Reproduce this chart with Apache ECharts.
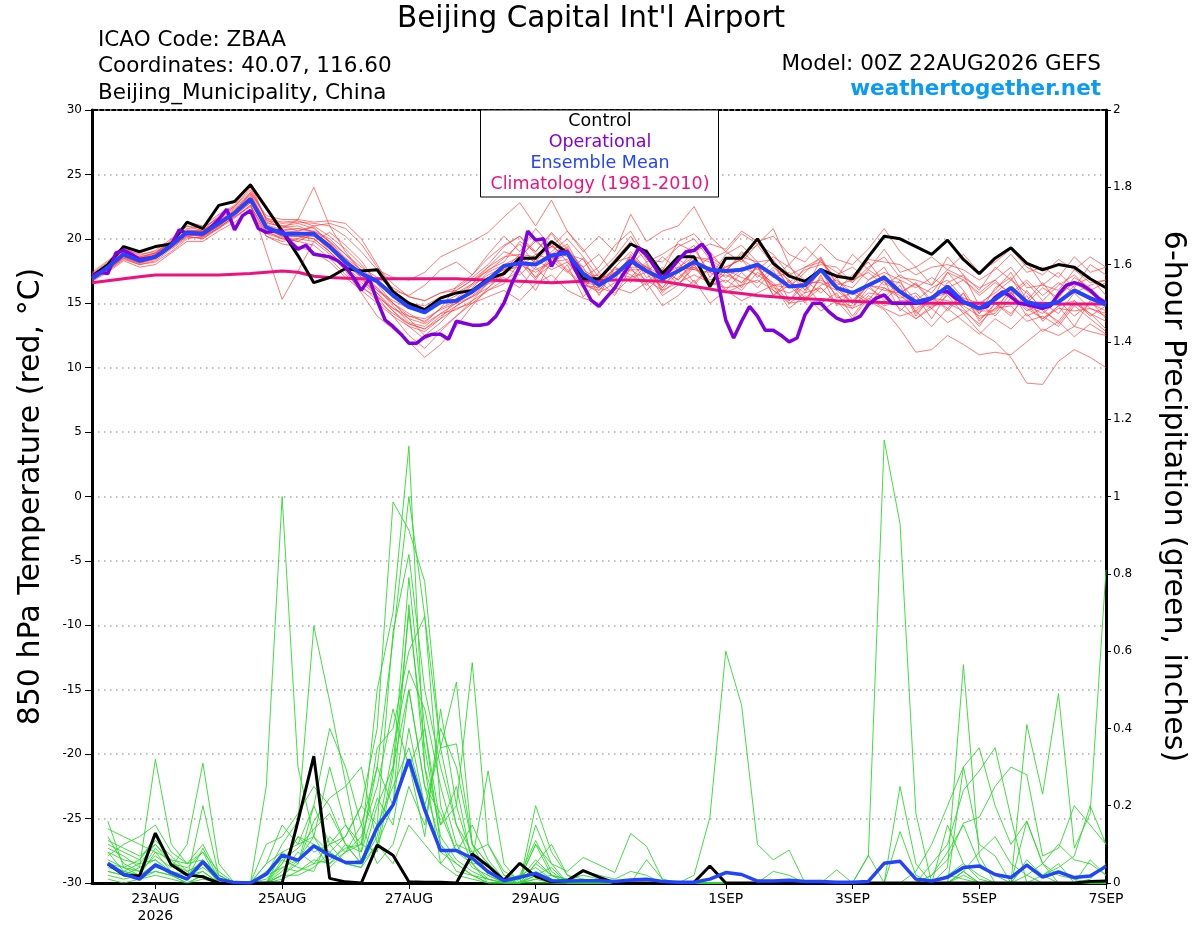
<!DOCTYPE html>
<html><head><meta charset="utf-8">
<script src="https://cdn.jsdelivr.net/npm/echarts@6/dist/echarts.min.js"></script>
<style>html,body{margin:0;padding:0;background:#fff}#c{width:1200px;height:927px}</style>
</head><body><div id="c"></div>
<script>
// ---- x axis (hours after 00Z 22AUG2026) ----
const xTickHours = [24, 72, 120, 168, 240, 288, 336, 384];
const xTickLabels = ['23AUG\n2026', '25AUG', '27AUG', '29AUG', '1SEP', '3SEP', '5SEP', '7SEP'];

// ---- 850 hPa temperature, 6-hourly from 00Z 22AUG (65 values) ----
const controlTemp = [17.1,18.0,19.4,19.0,19.4,19.6,21.3,20.8,22.6,22.9,24.2,22.4,20.6,
 18.7,16.6,17.0,17.7,17.5,17.6,15.9,15.0,14.5,15.4,15.8,16.0,16.9,
 17.3,18.5,18.5,19.8,18.9,16.9,16.9,18.2,19.6,19.0,17.3,18.6,18.6,
 16.3,18.5,18.5,20.0,18.1,17.1,16.7,17.6,17.1,16.9,18.6,20.2,20.0,
 19.4,18.8,19.9,18.4,17.3,18.5,19.3,18.1,17.6,18.0,17.8,16.9,16.2];
const meanTemp = [16.9,17.8,18.8,18.3,18.6,19.5,20.5,20.4,21.2,22.0,23.1,20.9,20.4,
 20.4,20.4,19.4,18.2,17.3,16.7,15.6,14.7,14.3,15.1,15.2,15.9,16.8,
 17.9,18.1,18.0,18.7,18.9,17.3,16.4,17.2,18.3,17.5,16.9,17.5,18.2,
 17.6,17.5,17.6,18.0,17.2,16.3,16.4,17.6,16.2,15.8,16.4,17.0,15.9,
 15.1,15.4,16.3,15.1,14.6,15.3,16.2,15.1,14.8,15.1,16.0,15.4,14.9];
const climoTemp = [16.6,16.75,16.9,17.05,17.2,17.2,17.2,17.2,17.2,17.25,17.3,17.4,17.5,
 17.4,17.1,17.0,16.95,16.9,16.9,16.9,16.9,16.9,16.9,16.9,16.85,16.8,
 16.75,16.7,16.65,16.6,16.65,16.7,16.75,16.8,16.8,16.75,16.7,16.5,16.3,
 16.1,15.9,15.75,15.6,15.5,15.4,15.35,15.3,15.2,15.15,15.1,15.05,15.0,
 15.0,15.0,15.0,15.0,15.0,15.0,15.0,15.0,15.0,14.95,14.95,14.95,14.95];
// operational run, 3-hourly (129 values)
const operationalTemp3h = [17.1,17.4,17.3,18.9,19.1,18.8,18.4,18.5,18.6,19.0,
 19.5,20.7,20.4,20.4,20.4,20.9,21.5,22.3,20.7,21.8,
 22.2,20.8,20.5,20.6,20.6,19.8,19.2,19.5,18.8,18.7,
 18.6,18.3,17.8,17.0,16.0,16.9,15.2,13.7,13.2,12.6,
 11.9,11.9,12.4,12.6,12.6,12.2,13.6,13.45,13.3,13.3,
 13.4,14.0,15.0,16.55,17.85,20.6,19.9,20.0,17.85,19.0,
 19.0,17.6,16.4,15.25,14.75,15.5,16.2,17.2,18.1,19.3,
 18.75,17.85,16.9,17.6,18.35,19.0,19.1,19.6,18.75,16.7,
 13.7,12.3,13.6,14.75,14.0,12.9,12.9,12.5,12.0,12.3,
 14.1,15.0,15.0,14.35,13.85,13.6,13.7,14.0,14.9,15.4,
 15.65,15.0,15.0,15.0,15.0,15.1,15.4,15.9,15.9,15.4,
 15.05,14.9,14.6,14.75,15.45,15.9,15.5,15.0,14.9,14.75,
 14.6,14.8,15.7,16.4,16.6,16.4,16.0,15.4,15.0];

// ensemble members, temperature (65 values each)
const tempM01 = [17.0,17.6,18.6,18.2,18.8,19.8,21.0,20.6,21.8,22.5,24.0,21.5,20.8, 21.5,24.0,21.0,19.0,17.5,16.0,15.0,14.2,13.5,14.6,16.3,17.2,18.5, 19.5,20.2,19.0,20.5,19.2,17.0,17.8,19.5,20.6,18.5,17.5,19.8,20.4, 19.0,17.5,18.8,19.5,18.0,16.2,17.8,18.5,16.0,17.2,18.2,16.6,15.8, 16.6,15.2,17.4,16.0,14.2,16.2,17.0,15.0,16.2,15.4,17.0,16.2,15.0];
const tempM02 = [16.8,17.5,18.4,18.0,18.2,19.0,20.0,20.2,20.8,21.8,22.8,19.0,15.3, 17.5,19.8,20.5,19.5,18.3,16.5,15.0,13.8,12.5,13.5,14.8,15.5,16.5, 17.0,16.2,17.8,16.5,18.0,15.5,16.8,15.6,17.8,16.0,17.2,18.2,16.6, 17.8,15.8,16.4,18.0,15.6,16.8,15.0,17.2,14.8,16.0,15.2,16.8,14.4, 15.6,13.8,15.8,14.6,13.2,15.0,14.2,15.6,13.6,14.8,13.2,15.2,13.8];
const tempM03 = [17.2,18.0,19.0,18.5,18.8,19.6,20.6,20.5,21.3,22.2,23.5,21.2,21.0, 21.2,20.8,19.8,18.5,17.0,15.5,14.0,12.5,11.5,12.8,14.0,15.0,16.0, 16.5,18.2,16.8,18.6,17.5,16.2,17.4,16.0,18.4,16.6,17.8,16.4,18.0, 16.4,17.6,16.2,18.0,16.0,15.2,16.4,15.0,15.8,14.0,15.6,14.8,15.2, 13.8,14.6,13.5,14.2,12.8,12.0,10.8,8.8,8.7,10.5,11.4,10.8,10.0];
const tempM04 = [17.0,17.7,18.7,18.2,18.5,19.5,20.4,20.4,21.1,21.9,23.0,20.8,20.4, 20.4,20.2,19.4,18.2,17.0,15.8,14.4,13.4,13.0,14.0,14.8,15.6,16.6, 17.4,18.0,17.4,18.2,18.4,16.6,15.8,16.6,17.6,16.8,16.0,16.6,17.2, 16.6,16.2,16.4,16.8,16.0,15.0,15.2,16.2,15.0,14.6,15.2,14.5,13.0, 11.2,11.4,12.5,11.8,11.0,11.2,11.0,12.0,13.0,12.5,13.2,12.8,12.5];
const tempM05 = [16.9,17.9,19.0,18.5,18.9,19.9,21.3,21.0,21.9,22.6,24.3,21.4,21.2, 21.3,21.2,21.0,20.2,19.0,17.6,17.0,16.8,17.4,18.6,19.2,19.8,20.5, 21.7,22.8,21.0,23.0,20.6,19.0,20.2,19.0,21.9,19.8,20.6,21.0,22.5, 20.2,19.0,20.4,19.6,20.8,18.0,19.4,18.2,17.0,18.8,17.6,19.2,17.4, 17.8,16.4,18.6,17.2,16.0,17.8,16.8,18.2,16.4,17.4,16.2,18.0,17.2];
const tempM06 = [17.3,18.2,19.2,18.8,19.0,19.8,20.8,20.9,21.6,22.4,23.6,21.8,21.5, 21.5,21.3,21.4,21.2,20.0,18.0,16.0,14.8,14.5,15.2,15.0,15.5,16.2, 17.5,18.5,20.0,18.5,19.2,17.8,15.6,17.8,19.0,17.6,16.5,18.6,19.5, 17.0,18.8,19.5,18.2,17.0,18.0,16.0,17.5,16.4,15.0,16.8,17.8,15.8, 16.5,15.0,16.6,17.2,14.8,16.0,17.4,15.2,16.6,15.0,16.4,17.0,15.6];
const tempM07 = [16.7,17.4,18.3,17.8,18.0,18.9,19.8,19.8,20.6,21.3,22.2,20.2,19.8, 20.0,20.6,20.0,18.8,17.5,16.2,14.8,13.5,13.2,14.2,14.5,15.2,16.0, 16.8,17.5,16.0,18.3,17.4,18.5,16.2,17.8,16.6,18.0,16.0,17.4,16.4, 17.8,16.0,17.4,16.2,17.6,15.2,16.8,15.8,17.0,15.2,16.4,15.2,16.4, 14.0,15.6,14.4,15.8,13.6,15.0,14.0,16.0,14.4,13.6,15.2,14.0,14.8];
const tempM08 = [17.0,17.8,18.9,18.4,18.7,19.6,20.6,20.3,21.0,21.8,22.8,20.8,20.2, 20.2,20.0,19.0,17.5,15.8,14.0,13.0,12.0,10.8,11.8,13.2,14.8,16.2, 17.2,18.6,17.0,18.0,19.2,16.4,16.0,17.4,17.0,18.2,15.8,17.0,18.0, 16.2,17.4,16.6,17.8,15.6,16.4,15.2,17.0,15.6,14.6,16.2,15.4,16.8, 14.2,15.4,14.6,15.8,13.8,14.6,16.0,14.0,14.6,13.4,15.0,14.2,13.6];
const tempM09 = [17.1,17.7,18.7,18.3,18.6,19.4,20.4,20.6,21.2,21.9,23.0,21.0,20.6, 20.8,20.6,19.8,18.8,17.8,17.0,16.2,15.5,15.2,15.8,16.0,16.8,17.5, 18.5,19.6,18.0,19.0,20.0,18.6,17.0,18.4,19.8,18.2,18.8,19.6,19.0, 19.6,19.2,20.6,19.8,20.2,18.8,18.2,19.6,18.4,18.0,19.2,20.8,19.0, 17.8,18.6,17.6,18.8,17.4,18.2,19.2,17.8,17.2,18.4,17.6,18.6,17.8];
const tempM10 = [16.8,17.6,18.6,18.1,18.4,19.3,20.2,20.0,20.8,21.6,22.6,20.4,20.0, 20.0,19.8,18.8,17.6,16.6,15.6,14.4,13.2,12.8,13.8,14.6,15.0,15.5, 16.0,15.2,16.5,17.2,16.0,15.4,15.0,16.2,15.8,16.6,14.8,15.6,16.8, 15.0,16.0,15.2,15.8,16.4,14.6,15.6,14.4,15.2,13.8,15.4,14.6,14.0, 14.4,13.2,14.6,13.6,12.6,13.8,13.0,14.2,12.8,13.6,12.4,13.4,12.6];
const tempM11 = [17.2,18.1,19.1,18.6,18.9,19.7,20.7,20.6,21.5,22.3,23.4,21.3,20.9, 21.0,20.5,19.6,18.4,17.4,16.8,15.8,15.0,14.8,15.5,15.8,16.5,17.6, 18.2,19.8,19.0,20.4,18.8,18.4,16.6,18.2,18.6,17.4,18.6,17.6,19.2, 17.4,17.8,18.4,17.0,18.2,16.2,17.4,18.6,16.4,16.8,17.4,16.4,17.2, 16.4,15.8,17.4,16.8,15.8,16.8,15.6,16.6,15.2,16.4,17.2,16.0,16.6];
const tempM12 = [16.9,17.7,18.8,18.2,18.5,19.4,20.3,20.2,21.0,21.9,23.0,20.6,20.0, 19.8,19.5,18.5,17.2,16.2,15.5,14.6,14.0,13.8,14.5,15.0,16.0,17.0, 17.6,18.8,18.2,19.6,18.2,17.0,17.2,16.8,18.8,17.0,17.6,16.8,18.0, 17.8,17.0,17.8,17.2,16.4,16.6,15.8,17.6,15.4,15.8,16.4,17.2,15.2, 15.2,14.6,16.0,15.4,14.2,15.4,15.8,14.4,15.0,14.2,15.8,14.6,14.2];
const tempM13 = [17.4,18.3,19.3,18.7,19.1,20.0,21.0,20.8,21.7,22.5,23.8,21.6,21.3, 21.4,21.0,21.2,20.8,19.6,17.8,16.5,15.5,15.2,15.8,16.2,17.0,18.0, 19.4,20.2,18.8,19.4,20.6,19.2,17.4,18.6,20.2,18.4,18.2,19.4,20.0, 18.4,19.0,18.2,19.6,18.8,17.2,17.8,18.2,17.4,16.6,17.8,18.6,17.0, 16.8,16.4,17.6,17.0,16.2,16.8,17.8,16.2,16.4,16.0,17.6,16.6,16.8];
const tempM14 = [16.8,17.5,18.5,18.0,18.3,19.2,20.1,20.1,20.9,21.7,22.5,20.2,19.6, 19.4,19.0,18.2,17.0,16.0,15.0,14.0,13.2,12.2,13.0,14.0,15.2,16.6, 17.2,18.4,17.0,18.8,17.6,16.4,16.2,15.8,17.0,17.4,15.6,16.4,17.8, 16.4,16.8,16.0,17.4,16.6,15.0,15.8,16.2,15.0,14.8,15.8,15.6,14.6, 13.8,14.8,15.0,14.4,13.4,14.6,14.8,13.6,14.0,13.2,14.8,13.8,12.8];
const tempM15 = [17.1,17.9,18.9,18.4,18.7,19.6,20.5,20.5,21.3,22.1,23.2,21.0,20.5, 20.6,20.9,19.7,18.3,17.2,16.0,15.2,14.6,14.4,15.0,15.6,16.5,17.8, 19.0,18.6,19.8,18.8,19.6,17.4,16.8,17.0,18.6,17.8,16.8,17.4,18.6, 18.2,17.4,19.0,18.0,17.0,17.4,16.0,18.4,16.6,16.2,17.6,16.8,16.6, 15.2,16.2,16.8,15.4,15.0,15.8,16.8,15.8,14.6,15.6,16.6,15.8,15.2];
const tempM16 = [17.0,17.8,18.7,18.3,18.6,19.5,20.4,20.3,21.1,22.0,23.1,20.9,20.3, 20.2,20.2,19.2,18.0,17.0,16.2,15.0,14.0,13.6,14.6,15.2,16.0,17.0, 17.6,17.8,18.8,18.4,19.4,16.8,16.8,17.6,17.8,17.8,16.2,17.8,17.6, 17.4,16.6,17.6,17.8,16.4,16.2,16.6,16.6,16.0,15.0,16.4,16.2,15.6, 14.6,15.4,15.2,14.8,14.0,14.2,15.8,14.6,13.8,14.6,14.4,14.6,14.0];
const tempM17 = [17.2,18.0,19.0,18.4,18.7,19.6,20.6,20.6,21.4,22.2,23.3,21.1,20.7, 20.8,20.5,19.6,18.5,17.6,16.8,15.6,14.8,14.6,15.4,16.0,16.8,17.8, 18.6,18.8,18.6,19.4,19.2,17.6,16.8,17.4,18.5,17.8,17.2,17.8,18.6, 18.4,17.6,18.6,18.2,18.4,16.6,17.6,18.0,17.8,16.6,18.4,18.2,18.0, 17.2,17.8,18.0,17.6,16.8,17.6,18.8,17.4,17.8,17.0,18.6,17.4,17.8];
const tempM18 = [16.9,17.7,18.6,18.2,18.5,19.4,20.4,20.2,21.0,21.9,22.9,20.7,20.2, 20.2,20.0,19.0,17.8,16.8,15.8,14.6,13.8,13.4,14.2,15.0,16.2,17.4, 18.0,18.6,17.6,18.2,18.8,17.4,16.0,17.4,17.6,17.6,16.2,17.6,17.8, 16.8,17.2,16.6,17.8,16.2,15.8,16.4,16.8,16.2,15.0,16.4,16.0,15.8, 14.4,15.4,15.8,15.0,14.4,14.4,16.2,14.8,13.8,14.8,15.2,14.2,13.0];
const tempM19 = [17.3,17.9,18.9,18.6,18.9,19.7,20.6,20.7,21.4,22.1,23.6,21.6,21.0, 20.6,21.0,20.2,19.2,18.0,16.6,16.0,15.6,16.4,17.6,18.2,17.2,18.8, 20.2,19.0,20.8,19.4,18.6,17.8,18.8,17.2,18.0,19.2,17.2,18.4,17.6, 18.6,17.8,18.4,17.6,18.6,17.8,16.8,17.6,17.2,17.8,16.8,17.4,16.8, 16.2,17.0,16.2,16.8,15.6,16.6,15.8,16.8,15.6,16.6,15.8,16.4,16.8];
const tempM20 = [16.8,17.6,18.5,18.1,18.5,19.3,20.2,20.0,20.9,21.7,22.6,20.5,20.1, 19.8,20.4,19.0,17.8,16.4,15.2,14.2,13.4,13.0,13.8,15.4,16.4,17.2, 17.8,17.2,18.4,17.6,18.2,16.6,16.4,17.8,17.2,16.4,17.6,16.8,18.4, 16.6,17.6,17.0,16.6,17.8,16.8,15.4,16.4,16.8,15.8,15.0,16.2,15.4, 15.8,14.6,15.6,14.2,15.0,14.0,15.4,14.8,14.2,15.2,14.0,15.0,14.4];
const tempMembers = [tempM01,tempM02,tempM03,tempM04,tempM05,tempM06,tempM07,tempM08,tempM09,tempM10,
  tempM11,tempM12,tempM13,tempM14,tempM15,tempM16,tempM17,tempM18,tempM19,tempM20];

// ---- 6-hour precipitation, values for 06Z 22AUG .. 00Z 7SEP (64 values) ----
const controlPrecip = [0.049,0.021,0.018,0.129,0.047,0.021,0.016,0,
 0,0,0,0,0.16,0.328,0.012,0.003,
 0,0.098,0.072,0.003,0.002,0.002,0,0.075,
 0.044,0.007,0.051,0.017,0.003,0.006,0.032,0.015,
 0,0,0,0,0,0.002,0.044,0,
 0,0,0,0,0,0,0,0,
 0,0,0,0,0,0,0,0,
 0,0,0,0,0,0,0.004,0.005];
const meanPrecip = [0.051,0.023,0.01,0.047,0.027,0.01,0.055,0.01,
 0.001,0,0.023,0.072,0.059,0.096,0.072,0.053,
 0.053,0.144,0.202,0.32,0.189,0.084,0.084,0.064,
 0.029,0.006,0.015,0.025,0.006,0.005,0.006,0.006,
 0.004,0.008,0.01,0.004,0.002,0.002,0.01,0.027,
 0.022,0.005,0.005,0.007,0.004,0.004,0.002,0.002,
 0.004,0.051,0.056,0.01,0.005,0.015,0.04,0.044,
 0.022,0.014,0.046,0.015,0.029,0.014,0.018,0.043];
const precipM01 = [0.05,0.03,0.02,0.08,0.03,0.01,0.06,0.01, 0,0,0.25,1.0,0.30,0.12,0.08,0.05, 0.04,0.15,0.25,0.35,0.20,0.08,0.05,0.02, 0.01,0,0.02,0.04,0.01,0,0,0, 0,0,0,0,0,0,0,0, 0,0,0,0,0,0,0,0, 0,0,0,0,0,0.02,0.01,0, 0,0,0,0,0,0,0,0];
const precipM02 = [0.1,0.08,0.06,0.12,0.05,0.02,0.03,0, 0,0,0.02,0.1,0.16,0.665,0.47,0.26, 0.05,0.1,0.3,0.5,0.25,0.1,0.05,0.02, 0,0,0,0.01,0.02,0,0,0, 0,0,0,0,0,0,0,0, 0,0,0,0,0,0,0,0, 0,0,0,0,0,0,0,0, 0,0,0.02,0,0,0,0,0];
const precipM03 = [0.16,0.04,0.02,0.05,0.02,0,0.02,0, 0,0,0,0.03,0.08,0.05,0.1,0.15, 0.1,0.5,0.7,1.13,0.3,0.05,0.1,0.08, 0.03,0,0.01,0.1,0.02,0,0,0, 0,0,0,0,0,0,0,0, 0,0,0,0,0,0,0,0, 0,0,0,0,0,0,0.03,0, 0,0,0,0,0,0,0,0];
const precipM04 = [0.07,0.1,0.12,0.15,0.08,0.05,0.1,0.02, 0,0,0,0.05,0.12,0.1,0.08,0.12, 0.2,0.4,0.986,0.913,0.78,0.35,0.36,0.1, 0.02,0,0,0.05,0.1,0.02,0,0, 0,0,0,0,0,0,0,0, 0,0,0,0,0,0,0,0, 0,0,0,0,0.05,0.1,0.24,0.29, 0.35,0.17,0,0.02,0.05,0,0,0];
const precipM05 = [0.03,0.02,0.04,0.32,0.1,0.05,0.08,0, 0,0,0.05,0.15,0.1,0.2,0.4,0.3, 0.15,0.3,0.63,1.0,0.69,0.2,0.08,0.05, 0.01,0,0,0.02,0,0,0,0, 0,0,0,0,0,0.02,0.17,0.6, 0.46,0.1,0.06,0.085,0,0,0,0, 0,0,0,0,0,0,0,0, 0,0,0,0,0,0,0,0];
const precipM06 = [0.12,0.05,0.03,0.07,0.04,0.1,0.31,0.05, 0,0,0.1,0.12,0.18,0.25,0.2,0.1, 0.05,0.2,0.3,0.79,0.4,0.1,0.03,0.02, 0,0,0,0,0,0,0.01,0, 0,0,0,0,0,0,0,0, 0,0,0,0,0,0,0,0, 0.07,1.146,0.93,0.18,0,0,0.02,0, 0,0,0,0,0,0,0,0];
const precipM07 = [0.04,0.03,0.02,0.03,0.02,0.01,0.2,0.02, 0,0,0,0.08,0.05,0.16,0.22,0.25, 0.3,0.1,0.2,0.72,0.3,0.15,0.25,0.05, 0.05,0.01,0,0.15,0.05,0,0,0, 0,0,0,0,0,0,0,0, 0,0,0,0,0,0,0,0, 0,0,0.25,0.05,0,0,0.3,0.1, 0.07,0,0,0,0,0,0,0];
const precipM08 = [0.08,0.06,0.05,0.1,0.06,0.02,0.04,0.01, 0,0,0,0.02,0.06,0.12,0.3,0.15, 0.08,0.35,0.4,0.6,0.69,0.35,0.52,0.1, 0.05,0,0,0.02,0,0,0,0, 0,0,0,0,0,0,0,0, 0,0,0,0,0,0,0,0, 0,0,0,0,0.02,0.08,0.15,0.05, 0.02,0,0.16,0.05,0,0,0,0];
const precipM09 = [0.06,0.04,0.03,0.09,0.05,0.03,0.05,0, 0,0,0.05,0.08,0.1,0.12,0.05,0.08, 0.12,0.25,0.45,0.3,0.4,0.15,0.2,0.57, 0.1,0.02,0.01,0.1,0.05,0.03,0.066,0.047, 0.027,0.128,0.095,0.01,0,0,0,0, 0,0,0,0,0,0,0,0, 0,0,0,0,0,0,0,0, 0,0,0.41,0.23,0.49,0.09,0.18,0.81];
const precipM10 = [0.09,0.07,0.04,0.06,0.03,0.02,0.06,0.01, 0,0,0.01,0.05,0.12,0.08,0.1,0.05, 0.06,0.15,0.2,0.31,0.12,0.45,0.2,0.06, 0.29,0.05,0,0.2,0.08,0.02,0.01,0, 0,0,0.06,0.01,0,0,0,0, 0,0,0,0,0,0,0,0, 0,0,0,0,0.02,0.06,0.155,0.17, 0.25,0.3,0.28,0.07,0.09,0.2,0.15,0.1];
const precipM11 = [0.02,0.01,0.02,0.04,0.03,0.01,0.03,0, 0,0,0,0.04,0.03,0.06,0.05,0.1, 0.05,0.12,0.35,0.55,0.45,0.25,0.1,0.04, 0.02,0,0,0.01,0,0,0,0, 0,0,0,0,0,0,0,0, 0,0,0,0,0,0,0,0, 0,0,0.133,0.02,0,0.04,0.565,0.07, 0,0,0,0,0,0,0.06,0.02];
const precipM12 = [0.11,0.09,0.07,0.1,0.05,0.04,0.08,0.03, 0,0,0,0.06,0.04,0.03,0.12,0.08, 0.15,0.05,0.1,0.25,0.15,0.4,0.3,0.1, 0.05,0.01,0.02,0.11,0.03,0,0,0, 0,0,0,0,0,0,0,0, 0,0,0,0,0,0,0,0, 0,0,0,0.03,0.1,0.2,0.3,0.35, 0.2,0.1,0.16,0.05,0.02,0.01,0,0];
const precipM13 = [0.03,0.02,0.01,0.02,0.01,0,0.01,0, 0,0,0,0.02,0.05,0.2,0.1,0.12, 0.2,0.15,0.65,0.85,0.5,0.3,0.15,0.05, 0,0,0,0.03,0.01,0,0,0, 0,0,0,0,0,0,0,0, 0,0,0,0,0,0,0,0, 0,0,0,0,0,0,0.03,0, 0,0,0,0,0,0,0,0];
const precipM14 = [0.05,0.04,0.06,0.11,0.07,0.03,0.05,0, 0,0,0.03,0.06,0.09,0.14,0.18,0.1, 0.08,0.22,0.15,0.4,0.2,0.35,0.15,0.08, 0.1,0.03,0.01,0.06,0.02,0.01,0.03,0.02, 0.01,0.03,0.02,0,0,0,0,0, 0,0,0.03,0.02,0,0,0.034,0, 0.072,0,0,0,0,0.02,0.05,0.01, 0,0,0.06,0.02,0.04,0.07,0.2,0.1];
const precipM15 = [0.14,0.12,0.1,0.08,0.06,0.05,0.06,0.02, 0,0,0,0.01,0.03,0.05,0.06,0.09, 0.1,0.08,0.28,0.7,0.35,0.12,0.06,0.03, 0.01,0,0,0.02,0.04,0,0,0, 0,0,0,0,0,0,0,0, 0,0,0,0,0,0,0,0, 0,0,0,0,0,0.15,0.05,0.02, 0,0,0,0,0,0,0,0];
const precipM16 = [0.01,0,0.01,0.03,0.02,0,0.02,0, 0,0,0,0.02,0.02,0.04,0.08,0.05, 0.04,0.1,0.05,0.15,0.1,0.05,0.02,0.01, 0,0,0,0,0,0,0,0, 0,0,0,0,0,0,0,0, 0,0,0,0,0,0,0,0, 0,0,0,0,0,0,0,0, 0,0,0.05,0.02,0,0,0.01,0.05];
const precipM17 = [0.08,0.03,0.05,0.06,0.02,0.01,0.09,0.01, 0,0,0.02,0.04,0.06,0.1,0.04,0.08, 0.1,0.3,0.2,0.5,0.25,0.18,0.08,0.15, 0.06,0.01,0,0.05,0.02,0.01,0.02,0.01, 0,0,0,0,0,0,0,0, 0,0,0,0,0,0,0,0, 0,0,0,0,0,0,0.03,0.08, 0.12,0.05,0.02,0.05,0.1,0.06,0.05,0.02];
const precipMembers = [precipM01,precipM02,precipM03,precipM04,precipM05,precipM06,precipM07,precipM08,
  precipM09,precipM10,precipM11,precipM12,precipM13,precipM14,precipM15,precipM16,precipM17];

// ---- text ----
const titleText = "Beijing Capital Int'l Airport";
const infoLines = ['ICAO Code: ZBAA', 'Coordinates: 40.07, 116.60', 'Beijing_Municipality, China'];
const modelText = 'Model: 00Z 22AUG2026 GEFS';
const siteText = 'weathertogether.net';
const legendNames = ['Control', 'Operational', 'Ensemble Mean', 'Climatology (1981-2010)'];

// ---- build ----
const FONT = 'DejaVu Sans';
const C_CONTROL = '#000000', C_OPER = '#8000e0', C_MEAN = '#2244ff', C_CLIMO = '#f0107f';
const C_RED = '#ff3a3a', C_GREEN = '#2fd82f';
const legendColors = [C_CONTROL, C_OPER, C_MEAN, C_CLIMO];

const at6 = arr => arr.map((v, i) => [i * 6, v]);
const at3 = arr => arr.map((v, i) => [i * 3, v]);
const precipAt6 = arr => arr.map((v, i) => [(i + 1) * 6, v]);

const base = { type: 'line', symbol: 'none', showSymbol: false, animation: false, silent: true,
  emphasis: { disabled: true }, clip: true };

const series = [];
tempMembers.forEach(m => series.push(Object.assign({}, base, {
  yAxisIndex: 0, data: at6(m), z: 1, lineStyle: { color: C_RED, width: 0.8, opacity: 0.85 } })));
precipMembers.forEach(m => series.push(Object.assign({}, base, {
  yAxisIndex: 1, data: precipAt6(m), z: 1, lineStyle: { color: C_GREEN, width: 0.9 } })));
series.push(Object.assign({}, base, { yAxisIndex: 0, data: at6(climoTemp), z: 3, lineStyle: { color: C_CLIMO, width: 3 } }));
series.push(Object.assign({}, base, { yAxisIndex: 0, data: at6(controlTemp), z: 4, lineStyle: { color: C_CONTROL, width: 3 } }));
series.push(Object.assign({}, base, { yAxisIndex: 0, data: at3(operationalTemp3h), z: 5, lineStyle: { color: C_OPER, width: 3.5 } }));
series.push(Object.assign({}, base, { yAxisIndex: 0, data: at6(meanTemp), z: 6, lineStyle: { color: C_MEAN, width: 4 } }));
series.push(Object.assign({}, base, { yAxisIndex: 1, data: precipAt6(controlPrecip), z: 4, lineStyle: { color: C_CONTROL, width: 3 } }));
series.push(Object.assign({}, base, { yAxisIndex: 1, data: precipAt6(meanPrecip), z: 6, lineStyle: { color: C_MEAN, width: 3.5 } }));

const labelMap = {};
xTickHours.forEach((h, i) => labelMap[h] = xTickLabels[i]);

const graphics = [];
graphics.push({ type: 'text', x: 591, y: 19, z: 100, style: { text: titleText, font: '29.5px "' + FONT + '"', fill: '#000', textAlign: 'center', textVerticalAlign: 'middle' } });
infoLines.forEach((t, i) => graphics.push({ type: 'text', x: 98, y: 40 + i * 26.5, z: 100,
  style: { text: t, font: '21.5px "' + FONT + '"', fill: '#000', textAlign: 'left', textVerticalAlign: 'middle' } }));
graphics.push({ type: 'text', x: 1101, y: 64, z: 100, style: { text: modelText, font: '21.5px "' + FONT + '"', fill: '#000', textAlign: 'right', textVerticalAlign: 'middle' } });
graphics.push({ type: 'text', x: 1101, y: 89, z: 100, style: { text: siteText, font: 'bold 21.5px "' + FONT + '"', fill: '#0a9cf5', textAlign: 'right', textVerticalAlign: 'middle' } });
graphics.push({ type: 'rect', z: 100, shape: { x: 480.5, y: 110, width: 238, height: 87 }, style: { fill: '#fff', stroke: '#000', lineWidth: 1 } });
legendNames.forEach((t, i) => graphics.push({ type: 'text', x: 600, y: 121 + i * 21.3, z: 101,
  style: { text: t, font: '17.5px "' + FONT + '"', fill: legendColors[i], textAlign: 'center', textVerticalAlign: 'middle' } }));

const chart = echarts.init(document.getElementById('c'), null, { renderer: 'canvas' });
chart.setOption({
  backgroundColor: '#ffffff',
  animation: false,
  textStyle: { fontFamily: FONT },
  grid: { left: 92, right: 94, top: 110, bottom: 44, show: true, borderColor: '#000', borderWidth: 2, backgroundColor: 'transparent' },
  xAxis: {
    type: 'value', min: 0, max: 384,
    axisLine: { show: true, onZero: false, lineStyle: { color: '#000', width: 3 } },
    axisTick: { show: true, customValues: xTickHours, length: 6, lineStyle: { color: '#000', width: 1 } },
    axisLabel: { customValues: xTickHours, formatter: v => labelMap[v] || '', fontSize: 14, lineHeight: 17, color: '#000', margin: 8, fontFamily: FONT },
    splitLine: { show: false }
  },
  yAxis: [
    { type: 'value', position: 'left', min: -30, max: 30, interval: 5,
      name: '850 hPa Temperature (red, °C)', nameLocation: 'middle', nameGap: 46,
      nameTextStyle: { fontSize: 30, color: '#000', fontFamily: FONT },
      axisLine: { show: true, onZero: false, lineStyle: { color: '#000', width: 3 } },
      axisTick: { show: true, length: 7, lineStyle: { color: '#000', width: 1 } },
      axisLabel: { fontSize: 12, color: '#000', margin: 10, fontFamily: FONT },
      splitLine: { show: true, lineStyle: { color: '#aaaaaa', width: 1.5, type: [1.5, 4.5] } } },
    { type: 'value', position: 'right', min: 0, max: 2, interval: 0.2,
      name: '6-hour Precipitation (green, inches)', nameLocation: 'middle', nameGap: 52, nameRotate: -90,
      nameTextStyle: { fontSize: 30, color: '#000', fontFamily: FONT },
      axisLine: { show: true, onZero: false, lineStyle: { color: '#000', width: 3 } },
      axisTick: { show: true, length: 5, lineStyle: { color: '#000', width: 1 } },
      axisLabel: { fontSize: 12, color: '#000', margin: 7, fontFamily: FONT, formatter: v => String(Math.round(v * 10) / 10) },
      splitLine: { show: false } }
  ],
  graphic: graphics,
  series: series
});
</script></body></html>
